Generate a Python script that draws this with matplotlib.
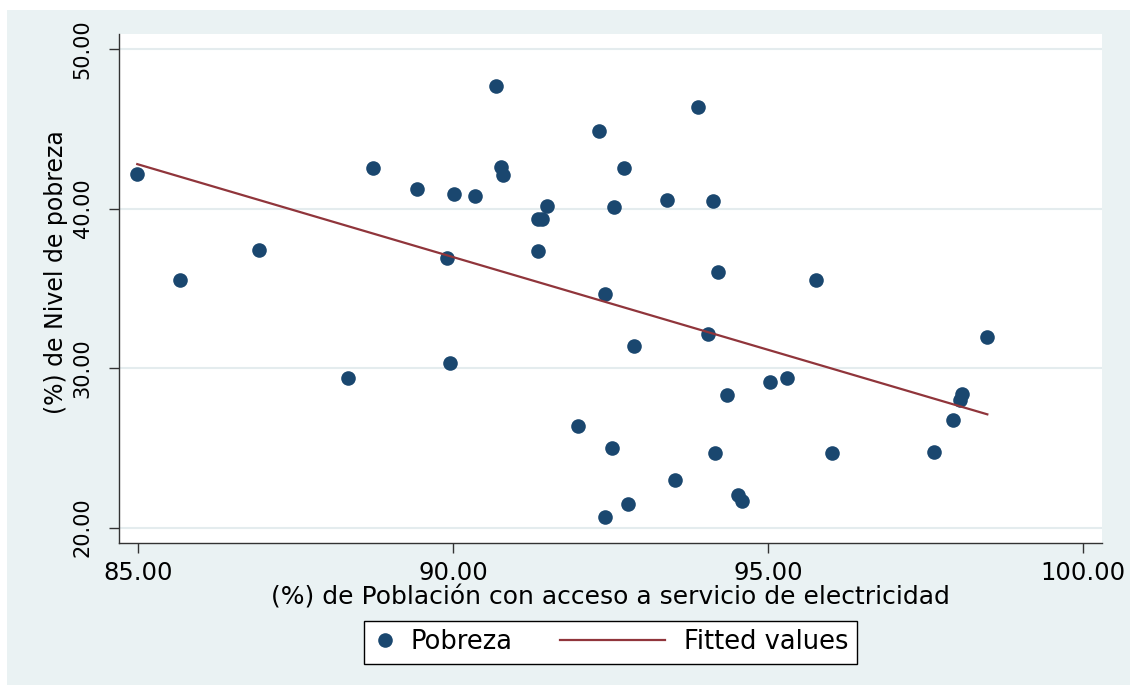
import numpy as np
import matplotlib
matplotlib.use("Agg")
import matplotlib.pyplot as plt
from matplotlib.lines import Line2D
from matplotlib.legend_handler import HandlerBase
from matplotlib.patches import Rectangle

# ---- data ----
electricidad = [84.99, 85.67, 86.92, 88.33, 88.73, 89.43, 89.90, 89.95, 90.01, 90.35,
                90.69, 90.76, 90.80, 91.35, 91.41, 91.35, 91.49, 91.99, 92.31, 92.42,
                92.41, 92.52, 92.56, 92.72, 92.77, 92.88, 93.40, 93.52, 93.89, 94.05,
                94.13, 94.16, 94.21, 94.35, 94.53, 94.59, 95.03, 95.30, 95.76, 96.01,
                97.64, 97.94, 98.04, 98.08, 98.48]
pobreza = [42.16, 35.52, 37.40, 29.37, 42.54, 41.22, 36.90, 30.31, 40.91, 40.78,
           47.68, 42.60, 42.10, 39.34, 39.34, 37.34, 40.16, 26.36, 44.86, 34.64,
           20.66, 24.98, 40.09, 42.54, 21.47, 31.38, 40.53, 22.98, 46.36, 32.13,
           40.47, 24.67, 36.02, 28.31, 22.04, 21.66, 29.12, 29.37, 35.52, 24.67,
           24.73, 26.74, 27.99, 28.37, 31.94]
x_ticks = [85, 90, 95, 100]
y_ticks = [20, 30, 40, 50]
x_label = "(%) de Población con acceso a servicio de electricidad"
y_label = "(%) de Nivel de pobreza"
series_names = ["Pobreza", "Fitted values"]

NAVY = "#1a476f"
MAROON = "#90353b"
BG = "#eaf2f3"

plt.rcParams['font.family'] = ['DejaVu Sans']

W, H = 1130, 686
fig = plt.figure(figsize=(W / 100, H / 100), dpi=100, facecolor="white")
fig.patches.append(Rectangle((7 / W, 1 - 685 / H), (W - 7) / W, (685 - 10) / H,
                             transform=fig.transFigure, facecolor=BG,
                             edgecolor="none", zorder=-10))

ax = fig.add_axes([119 / W, 1 - 543 / H, (1102 - 119) / W, (543 - 34) / H])
ax.set_facecolor("white")

x = np.array(electricidad)
y = np.array(pobreza)
slope, intercept = np.polyfit(x, y, 1)
xf = np.array([x.min(), x.max()])
yf = intercept + slope * xf

ax.plot(x, y, linestyle="none", marker="o", markersize=10.5, color=NAVY,
        markeredgewidth=0, label=series_names[0], zorder=3)
ax.plot(xf, yf, color=MAROON, linewidth=1.6, label=series_names[1], zorder=4)

ax.set_xlim(84.70, 100.30)
ax.set_ylim(19.04, 50.94)
ax.set_xticks(x_ticks)
ax.set_xticklabels([f"{v:.2f}" for v in x_ticks], fontsize=17.5)
ax.set_yticks(y_ticks)
ax.set_yticklabels([f"{v:.2f}" for v in y_ticks], rotation=90, va="center",
                   fontsize=15)

for s in ["top", "right"]:
    ax.spines[s].set_visible(False)
for s in ["left", "bottom"]:
    ax.spines[s].set_color("#333333")
    ax.spines[s].set_linewidth(1.0)

ax.tick_params(axis="both", direction="out", length=7, width=1, color="#333333",
               labelcolor="black")
ax.tick_params(axis="x", pad=6)
ax.tick_params(axis="y", pad=12)

ax.grid(axis="y", color="#e4ecee", linewidth=1.5, zorder=0)
ax.set_axisbelow(True)

ax.set_xlabel(x_label, fontsize=18, labelpad=0)
ax.set_ylabel(y_label, fontsize=17)
ax.yaxis.set_label_coords(-0.052, 0.532)


class LongLineHandler(HandlerBase):
    def __init__(self, extra, **kw):
        super().__init__(**kw)
        self.extra = extra

    def create_artists(self, legend, orig_handle, xdescent, ydescent, width,
                       height, fontsize, trans):
        yc = height / 2 - ydescent
        line = Line2D([-xdescent - self.extra, -xdescent + width - 5], [yc, yc],
                      color=orig_handle.get_color(),
                      linewidth=orig_handle.get_linewidth())
        line.set_transform(trans)
        return [line]


handles, labels = ax.get_legend_handles_labels()
leg = fig.legend(handles, labels, loc="upper left", ncol=2,
                 bbox_to_anchor=(364 / W, 1 - 621 / H), borderaxespad=0,
                 fontsize=18.5, frameon=True, fancybox=False, edgecolor="black",
                 facecolor="white", framealpha=1,
                 handlelength=1.0, handletextpad=0.47, columnspacing=5.2,
                 borderpad=0.33,
                 handler_map={handles[1]: LongLineHandler(extra=62)})
leg.get_frame().set_linewidth(1.0)

fig.savefig("out.png", dpi=100, facecolor="white")
